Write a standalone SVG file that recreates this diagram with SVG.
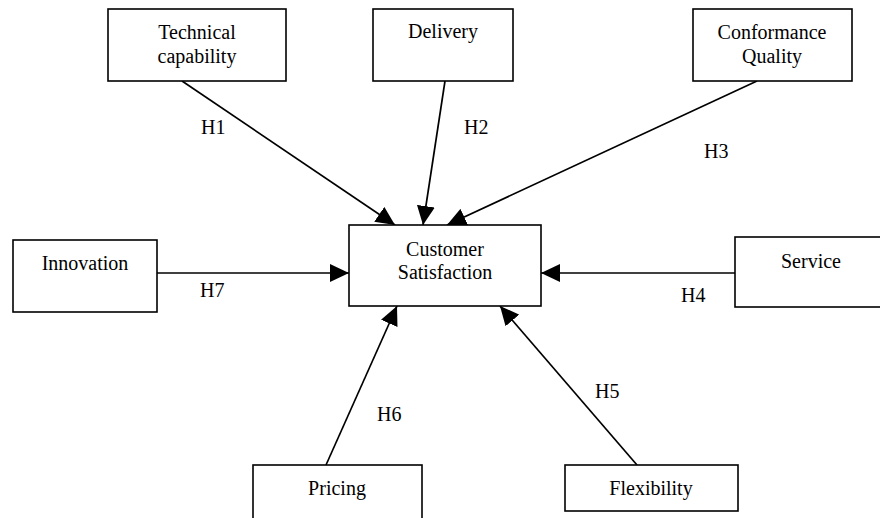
<svg xmlns="http://www.w3.org/2000/svg" width="880" height="518" viewBox="0 0 880 518">
<style>
  .box { fill: #fff; stroke: #000; stroke-width: 1.6; }
  .t { font-family: "Liberation Serif", "Times New Roman", serif; font-size: 20px; fill: #000; text-anchor: middle; }
  .lbl { font-family: "Liberation Serif", "Times New Roman", serif; font-size: 20px; fill: #000; }
  .edge { stroke: #000; stroke-width: 1.7; fill: none; marker-end: url(#arr); }
</style>
<defs>
  <marker id="arr" markerUnits="userSpaceOnUse" markerWidth="19" markerHeight="18" refX="19" refY="9" orient="auto">
    <path d="M0,0 L19,9 L0,18 z" fill="#000"/>
  </marker>
</defs>
<rect width="880" height="518" fill="#fff"/>
<g id="connectors">
  <line class="edge" x1="182" y1="81" x2="395" y2="225"/>
  <line class="edge" x1="445" y1="81" x2="423" y2="225"/>
  <line class="edge" x1="757" y1="81" x2="447" y2="225"/>
  <line class="edge" x1="157" y1="273" x2="349" y2="273"/>
  <line class="edge" x1="735" y1="273" x2="541" y2="273"/>
  <line class="edge" x1="326" y1="465" x2="397" y2="306"/>
  <line class="edge" x1="637" y1="465" x2="500" y2="306"/>
  <text class="lbl" x="201" y="134">H1</text>
  <text class="lbl" x="464" y="134">H2</text>
  <text class="lbl" x="704" y="158">H3</text>
  <text class="lbl" x="681" y="302">H4</text>
  <text class="lbl" x="595" y="398">H5</text>
  <text class="lbl" x="377" y="421">H6</text>
  <text class="lbl" x="200" y="297">H7</text>
</g>
<g id="technical">
  <rect class="box" x="108" y="9" width="178" height="72"/>
  <text class="t" x="197" y="39">Technical</text>
  <text class="t" x="197" y="63">capability</text>
</g>
<g id="delivery">
  <rect class="box" x="373" y="9" width="140" height="72"/>
  <text class="t" x="443" y="38">Delivery</text>
</g>
<g id="conformance">
  <rect class="box" x="693" y="9" width="159" height="72"/>
  <text class="t" x="772" y="39">Conformance</text>
  <text class="t" x="772" y="63">Quality</text>
</g>
<g id="innovation">
  <rect class="box" x="13" y="240" width="144" height="72"/>
  <text class="t" x="85" y="270">Innovation</text>
</g>
<g id="customer">
  <rect class="box" x="349" y="225" width="192" height="81"/>
  <text class="t" x="445" y="256">Customer</text>
  <text class="t" x="445" y="279">Satisfaction</text>
</g>
<g id="service">
  <rect class="box" x="735" y="237" width="152" height="70"/>
  <text class="t" x="811" y="268">Service</text>
</g>
<g id="pricing">
  <rect class="box" x="253" y="465" width="169" height="60"/>
  <text class="t" x="337" y="495">Pricing</text>
</g>
<g id="flexibility">
  <rect class="box" x="565" y="465" width="173" height="46"/>
  <text class="t" x="651" y="495">Flexibility</text>
</g>
</svg>
